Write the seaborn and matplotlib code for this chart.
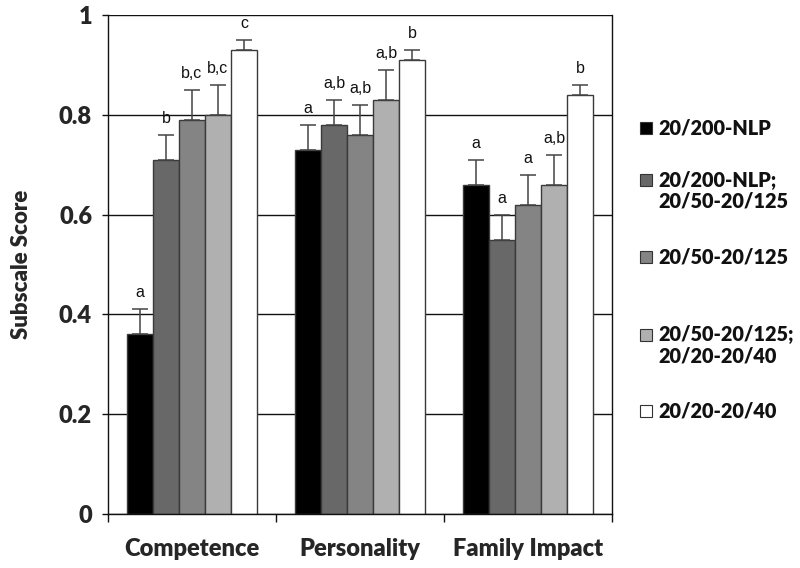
import matplotlib
matplotlib.use("Agg")
import matplotlib.pyplot as plt
import seaborn as sns
import pandas as pd
from matplotlib.patches import Rectangle

categories = ["Competence", "Personality", "Family Impact"]
groups = ["20/200-NLP", "20/200-NLP;\n20/50-20/125", "20/50-20/125",
          "20/50-20/125;\n20/20-20/40", "20/20-20/40"]
competence = [0.36, 0.71, 0.79, 0.80, 0.93]
personality = [0.73, 0.78, 0.76, 0.83, 0.91]
family = [0.66, 0.55, 0.62, 0.66, 0.84]
competence_err = [0.05, 0.05, 0.06, 0.06, 0.02]
personality_err = [0.05, 0.05, 0.06, 0.06, 0.02]
family_err = [0.05, 0.05, 0.06, 0.06, 0.02]
competence_letters = ["a", "b", "b,c", "b,c", "c"]
personality_letters = ["a", "a,b", "a,b", "a,b", "b"]
family_letters = ["a", "a", "a", "a,b", "b"]
yticks = [0, 0.2, 0.4, 0.6, 0.8, 1]
ytick_labels = ["0", "0.2", "0.4", "0.6", "0.8", "1"]
colors = ["#000000", "#686868", "#848484", "#b0b0b0", "#ffffff"]

vals = [competence, personality, family]
errs = [competence_err, personality_err, family_err]
letters = [competence_letters, personality_letters, family_letters]

rows = []
for ci, cat in enumerate(categories):
    for gi, g in enumerate(groups):
        rows.append({"Category": cat, "Group": g, "Score": vals[ci][gi],
                     "Err": errs[ci][gi], "Letter": letters[ci][gi]})
df = pd.DataFrame(rows)

sns.set_theme(style="white")
BOLD = ["Lato", "DejaVu Sans"]
REG = ["Liberation Sans", "DejaVu Sans"]
plt.rcParams["font.family"] = BOLD
W = "heavy"

fig = plt.figure(figsize=(8, 5.68), dpi=100)
ax = fig.add_axes([108 / 800, 54 / 568, 504 / 800, 499 / 568])

sns.barplot(data=df, x="Category", y="Score", hue="Group", order=categories,
            hue_order=groups, palette=colors, errorbar=None, width=0.774,
            edgecolor="#3a3a3a", linewidth=1.0, saturation=1, legend=False, ax=ax)

bar_containers = list(ax.containers)
for gi, cont in enumerate(bar_containers):
    sub = df[df["Group"] == groups[gi]].set_index("Category").loc[categories]
    for bar, (_, r) in zip(cont.patches, sub.iterrows()):
        xc = bar.get_x() + bar.get_width() / 2
        top = bar.get_height()
        ax.errorbar([xc], [top], yerr=[[0], [r["Err"]]], fmt="none",
                    ecolor="#444444", elinewidth=1.1, capsize=5.5, capthick=1.1,
                    zorder=3)
        ax.text(xc, top + r["Err"] + 0.018, r["Letter"], ha="center",
                va="bottom", fontsize=11.5, family=REG, color="#111111")

ax.set_ylim(0, 1)
ax.set_xlim(-0.5, 2.5)
ax.set_yticks(yticks)
ax.set_yticklabels(ytick_labels, fontsize=17, fontweight=W)
ax.yaxis.grid(True, color="#111111", linewidth=1.0)
ax.set_axisbelow(True)
for s in ax.spines.values():
    s.set_color("#111111")
    s.set_linewidth(1.0)
ax.spines["top"].set_visible(False)

ax.set_xticks([0, 1, 2])
ax.set_xticklabels(categories, fontsize=17, fontweight=W)
ax.set_xticks([-0.5, 0.5, 1.5, 2.5], minor=True)
ax.tick_params(axis="x", which="major", length=0, pad=17)
ax.tick_params(axis="x", which="minor", length=6, width=1, color="#111111",
               direction="out", bottom=True)
ax.tick_params(axis="y", length=4.5, width=1, color="#111111",
               direction="out", left=True, pad=7)
ax.set_xlabel("")
ax.set_ylabel("Subscale Score", fontsize=16, fontweight=W)
ax.yaxis.set_label_coords(-0.151, 0.5)

# manual legend (right side)
leg_y = [128, 180, 257, 335, 411]
for gi, g in enumerate(groups):
    yc = leg_y[gi]
    fig.add_artist(Rectangle((640 / 800, (568 - yc - 6) / 568), 12 / 800, 12 / 568,
                             transform=fig.transFigure, facecolor=colors[gi],
                             edgecolor="#333333", linewidth=0.8))
    lines = g.split("\n")
    for li, line in enumerate(lines):
        fig.text(658 / 800, (568 - yc - li * 21) / 568, line, ha="left",
                 va="center", fontsize=14.3, fontweight=W, color="#111111")

fig.savefig("out.png", dpi=100)
